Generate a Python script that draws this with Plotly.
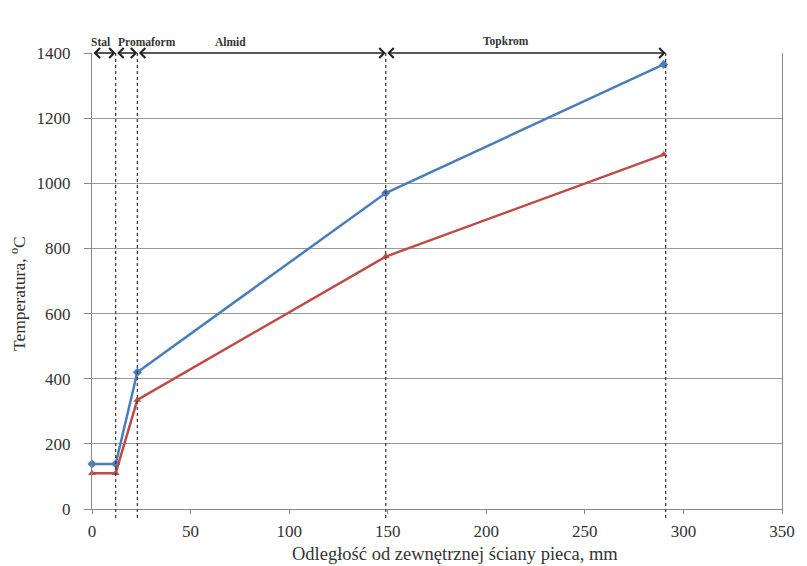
import plotly.graph_objects as go

# Data
x_mm = [0, 12, 23, 149, 290]
blue_temp = [138, 138, 420, 970, 1365]
red_temp = [110, 110, 335, 775, 1088]

boundaries = [0, 12, 23, 149, 291]
section_labels = ["Stal", "Promaform", "Almid", "Topkrom"]
label_x = [4.5, 28, 70, 210]

x_ticks = [0, 50, 100, 150, 200, 250, 300, 350]
y_ticks = [0, 200, 400, 600, 800, 1000, 1200, 1400]

x_title = "Odległość od zewnętrznej ściany pieca, mm"
y_title = "Temperatura, <sup>o</sup>C"

FONT = "Liberation Serif"
BLUE = "#4a7ebb"
RED = "#be4b48"

fig = go.Figure()
fig.add_trace(go.Scatter(x=x_mm, y=blue_temp, mode="lines+markers",
                         line=dict(color=BLUE, width=2.5),
                         marker=dict(symbol="diamond", size=7, color=BLUE),
                         showlegend=False, cliponaxis=False))
fig.add_trace(go.Scatter(x=x_mm, y=red_temp, mode="lines+markers",
                         line=dict(color=RED, width=2.5),
                         marker=dict(symbol="triangle-up", size=7, color=RED),
                         showlegend=False, cliponaxis=False))

shapes = []
for b in boundaries[1:]:
    shapes.append(dict(type="line", xref="x", yref="paper", x0=b, x1=b,
                       y0=-0.02, y1=1.0,
                       line=dict(color="#333333", width=1.2, dash="dot")))

annotations = []
top = y_ticks[-1]
for i in range(len(section_labels)):
    a, b = boundaries[i], boundaries[i + 1]
    annotations.append(dict(x=b, y=top, ax=a, ay=top, xref="x", yref="y",
                            axref="x", ayref="y", text="", showarrow=True,
                            arrowhead=4, startarrowhead=4, arrowside="end+start",
                            arrowsize=1.2, startarrowsize=1.2,
                            arrowwidth=1.6, arrowcolor="#222222"))
    annotations.append(dict(x=label_x[i], y=top, xref="x", yref="y",
                            text="<b>" + section_labels[i] + "</b>",
                            showarrow=False, yanchor="bottom", yshift=3,
                            font=dict(family=FONT, size=11.5, color="#333333")))

# axis titles as annotations (offset as in the reference)
annotations.append(dict(text=x_title, xref="paper", yref="paper", x=0.5, y=0,
                        xshift=18, yshift=-45, xanchor="center", yanchor="middle",
                        showarrow=False, font=dict(family=FONT, size=18.5, color="#333333")))
annotations.append(dict(text=y_title, xref="paper", yref="paper", x=0, y=0.5,
                        xshift=-74, yshift=-13, xanchor="center", yanchor="middle",
                        textangle=-90, showarrow=False,
                        font=dict(family=FONT, size=17.5, color="#333333")))

fig.update_layout(
    width=807, height=566,
    margin=dict(l=92, r=15, t=53, b=57),
    paper_bgcolor="white", plot_bgcolor="white",
    font=dict(family=FONT, size=17, color="#333333"),
    shapes=shapes, annotations=annotations,
    xaxis=dict(range=[0, 350], tickvals=x_ticks, showgrid=False,
               zeroline=False, showline=True, linecolor="#888888", linewidth=1,
               ticks="outside", ticklen=4, tickcolor="#888888",
               ticklabelstandoff=3),
    yaxis=dict(range=[0, 1400], tickvals=y_ticks, showgrid=True,
               gridcolor="#999999", gridwidth=1, zeroline=False,
               showline=True, mirror=True, linecolor="#888888", linewidth=1,
               ticks="outside", ticklen=7, tickcolor="#888888",
               ticklabelstandoff=10),
)

fig.write_html("out.html")
